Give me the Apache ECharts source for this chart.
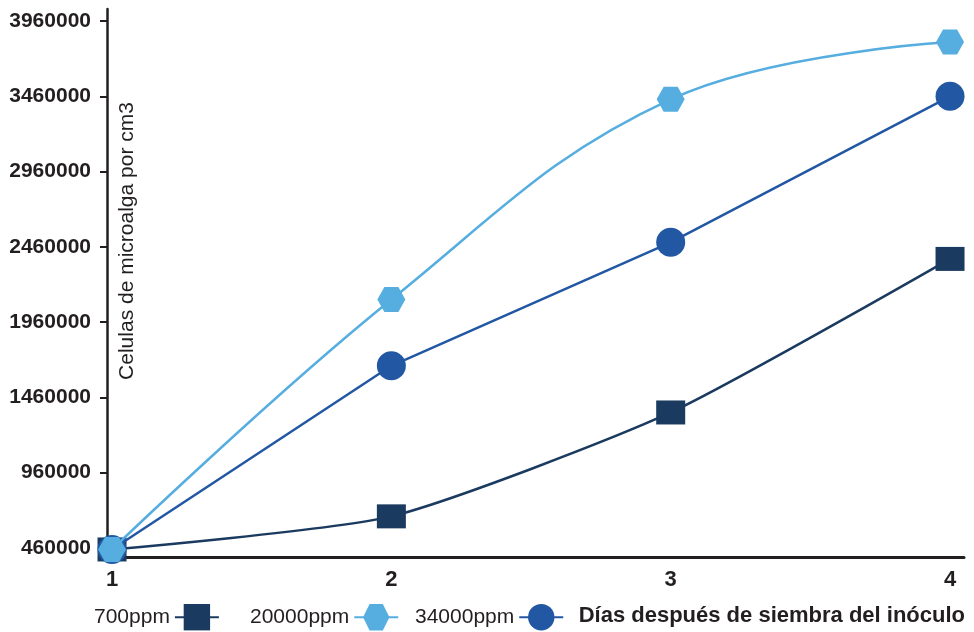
<!DOCTYPE html>
<html>
<head>
<meta charset="utf-8">
<script src="https://cdn.jsdelivr.net/npm/echarts@6/dist/echarts.min.js"></script>
<style>
  html, body { margin: 0; padding: 0; background: #ffffff; }
  #chart { width: 974px; height: 632px; }
</style>
</head>
<body>
<div id="chart"></div>
<script>
// Days after inoculation
const days = [1, 2, 3, 4];
// Microalgae cells per cm3 for each concentration
const ppm700 = [450000, 670000, 1360000, 2380000];
const ppm20000 = [450000, 2110000, 3440000, 3820000];
const ppm34000 = [450000, 1670000, 2490000, 3460000];
// Tick labels
const yTicks = [460000, 960000, 1460000, 1960000, 2460000, 2960000, 3460000, 3960000];
const xTicks = [1, 2, 3, 4];

const colors = { '700ppm': '#1b3a5f', '20000ppm': '#55ade0', '34000ppm': '#2257a3' };
const FONT = '"Liberation Sans", Arial, Helvetica, sans-serif';
const INK = '#231f20';
const HEX = 'path://M0,8.66 L5,0 L15,0 L20,8.66 L15,17.32 L5,17.32 Z';

const pairs = vals => days.map((d, i) => [d, vals[i]]);

const chart = echarts.init(document.getElementById('chart'));

function legendAt(name, left) {
  return {
    data: [name],
    left: left,
    top: 604,
    padding: 0,
    align: 'right',
    orient: 'horizontal',
    itemWidth: 44,
    itemHeight: 33,
    itemGap: 0,
    selectedMode: false,
    textStyle: { fontFamily: FONT, fontSize: 21, color: INK }
  };
}

chart.setOption({
  animation: false,
  backgroundColor: '#ffffff',
  grid: { left: 107, right: 10, top: 9, bottom: 75, containLabel: false, outerBoundsMode: 'none' },
  legend: [
    legendAt('700ppm', 94),
    legendAt('20000ppm', 250),
    legendAt('34000ppm', 415)
  ],
  xAxis: {
    type: 'value',
    min: 0.982,
    max: 4.05,
    axisLine: { show: true, onZero: false, lineStyle: { color: INK, width: 3 } },
    axisTick: { show: false },
    splitLine: { show: false },
    axisLabel: {
      customValues: xTicks,
      margin: 12,
      fontFamily: FONT,
      fontSize: 22,
      fontWeight: 'bold',
      color: INK
    }
  },
  yAxis: {
    type: 'value',
    min: 400000,
    max: 4040000,
    axisLine: { show: true, onZero: false, lineStyle: { color: INK, width: 2.5 } },
    axisTick: { show: true, customValues: yTicks, length: 7, lineStyle: { color: INK, width: 2 } },
    splitLine: { show: false },
    axisLabel: {
      customValues: yTicks,
      formatter: v => String(v),
      margin: 16,
      fontFamily: FONT,
      fontSize: 21,
      fontWeight: 'bold',
      color: INK
    }
  },
  series: [
    {
      name: '700ppm',
      type: 'line',
      data: pairs(ppm700),
      smooth: 0.2,
      symbol: 'rect',
      symbolSize: [29, 24],
      z: 2,
      lineStyle: { color: colors['700ppm'], width: 2.5 },
      itemStyle: { color: colors['700ppm'] }
    },
    {
      name: '34000ppm',
      type: 'line',
      data: pairs(ppm34000),
      smooth: false,
      symbol: 'circle',
      symbolSize: 29,
      z: 3,
      lineStyle: { color: colors['34000ppm'], width: 2.5 },
      itemStyle: { color: colors['34000ppm'] }
    },
    {
      name: '20000ppm',
      type: 'line',
      data: pairs(ppm20000),
      smooth: 0.4,
      symbol: HEX,
      symbolSize: [28, 25],
      z: 4,
      lineStyle: { color: colors['20000ppm'], width: 2.5 },
      itemStyle: { color: colors['20000ppm'] }
    }
  ],
  graphic: [
    {
      type: 'text',
      x: 127,
      y: 241,
      rotation: Math.PI / 2,
      style: {
        text: 'Celulas de microalga por cm3',
        fontFamily: FONT,
        fontSize: 21,
        fill: INK,
        textAlign: 'center',
        textVerticalAlign: 'middle'
      }
    },
    {
      type: 'text',
      x: 965,
      y: 616,
      style: {
        text: 'Días después de siembra del inóculo',
        fontFamily: FONT,
        fontSize: 22,
        fontWeight: 'bold',
        fill: INK,
        textAlign: 'right',
        textVerticalAlign: 'middle'
      }
    }
  ]
});
</script>
</body>
</html>
